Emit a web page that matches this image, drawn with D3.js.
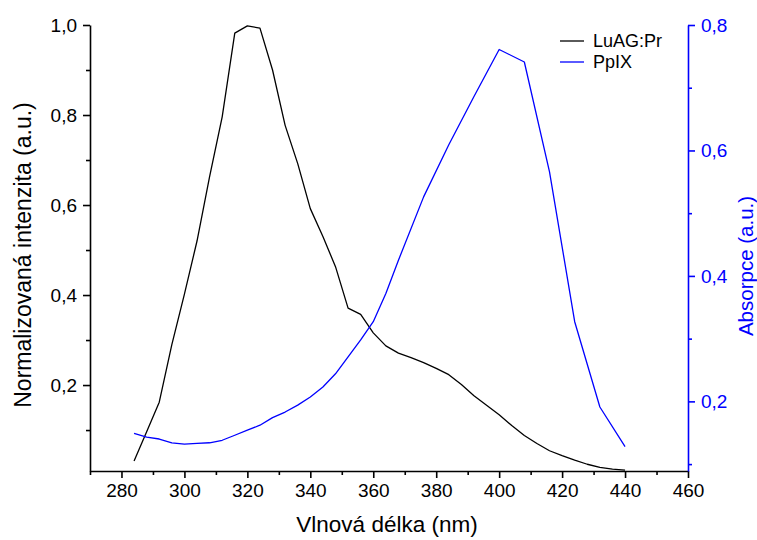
<!DOCTYPE html>
<html lang="cs">
<head>
    <meta charset="utf-8">
    <title>LuAG:Pr / PpIX</title>
    <script src="https://d3js.org/d3.v7.min.js"></script>
    <style>
        body {
            margin: 0;
            background: #fff;
            font-family: "Liberation Sans", Arial, sans-serif;
        }
        .curve {
            fill: none;
            stroke-width: 1.3px;
            stroke-linejoin: round;
        }
        .axis path, .axis line {
            stroke-width: 1.6px;
        }
    </style>
</head>
<body>
    <svg id="chart" width="757" height="540"></svg>

    <script>
        // LuAG:Pr emise (levá osa) - vlnová délka v nm, krok 4 nm
        const luagX = [284, 288, 292, 296, 300, 304, 308, 312, 316, 320, 324, 328, 332, 336, 340,
            344, 348, 352, 356, 360, 364, 368, 372, 376, 380, 384, 388, 392, 396, 400,
            404, 408, 412, 416, 420, 424, 428, 432, 436, 440];
        const luagY = [0.031, 0.096, 0.162, 0.290, 0.402, 0.520, 0.663, 0.796, 0.982, 0.998, 0.993, 0.900, 0.777, 0.692, 0.592,
            0.530, 0.463, 0.371, 0.357, 0.316, 0.287, 0.271, 0.261, 0.250, 0.237, 0.223, 0.201, 0.176, 0.155, 0.134,
            0.110, 0.088, 0.070, 0.054, 0.043, 0.033, 0.024, 0.017, 0.013, 0.011];

        // PpIX absorpce (pravá osa)
        const ppixX = [284, 288, 292, 296, 300, 304, 308, 312, 316, 320, 324, 328, 332, 336, 340,
            344, 348, 352, 356, 360, 364, 368, 376, 384, 392, 400, 408, 416, 424, 432, 440];
        const ppixY = [0.149, 0.143, 0.140, 0.134, 0.132, 0.133, 0.134, 0.138, 0.146, 0.154, 0.162, 0.174, 0.183, 0.194, 0.207,
            0.223, 0.244, 0.271, 0.298, 0.327, 0.372, 0.425, 0.526, 0.609, 0.686, 0.761, 0.741, 0.566, 0.327, 0.191, 0.128];

        const xTicks = [280, 300, 320, 340, 360, 380, 400, 420, 440, 460];
        const leftTicks = [0.2, 0.4, 0.6, 0.8, 1.0];
        const rightTicks = [0.2, 0.4, 0.6, 0.8];
        const seriesNames = ["LuAG:Pr", "PpIX"];
        const seriesColors = ["#000000", "#0000ff"];

        const margin = { top: 25, right: 69, bottom: 69, left: 90 };
        const width = 757, height = 540;
        const svg = d3.select("#chart");

        const x = d3.scaleLinear().domain([270, 460]).range([margin.left, width - margin.right]);
        const yLeft = d3.scaleLinear().domain([0.009, 1.0]).range([height - margin.bottom, margin.top]);
        const yRight = d3.scaleLinear().domain([0.089, 0.8]).range([height - margin.bottom, margin.top]);

        const comma = d => d3.format(".1f")(d).replace(".", ",");

        // helper: major + minor ticks for one axis
        function drawAxis(axisFn, scale, major, minor, transform, color, fontSize) {
            const gMinor = svg.append("g")
                .attr("class", "axis")
                .attr("transform", transform)
                .call(axisFn(scale).tickValues(minor).tickSize(4).tickFormat(""));
            gMinor.select(".domain").remove();
            gMinor.selectAll("line").attr("stroke", color);

            const g = svg.append("g")
                .attr("class", "axis")
                .attr("transform", transform)
                .call(axisFn(scale).tickValues(major).tickSizeInner(7).tickSizeOuter(0).tickPadding(6));
            g.select(".domain").attr("stroke", color);
            g.selectAll("line").attr("stroke", color);
            g.selectAll("text")
                .attr("fill", color)
                .style("font-family", "'Liberation Sans', Arial, sans-serif")
                .style("font-size", fontSize + "px");
            return g;
        }

        drawAxis(d3.axisBottom, x, xTicks, d3.range(270, 461, 10).filter(v => v % 20 !== 0),
            `translate(0,${height - margin.bottom})`, "#000", 19)
            .call(g => g.selectAll("text").text(d => d));

        drawAxis(d3.axisLeft, yLeft, leftTicks, [0.1, 0.3, 0.5, 0.7, 0.9],
            `translate(${margin.left},0)`, "#000", 19)
            .call(g => g.selectAll("text").text(comma));

        drawAxis(d3.axisRight, yRight, rightTicks, [0.1, 0.3, 0.5, 0.7],
            `translate(${width - margin.right},0)`, "#0000ff", 19)
            .call(g => g.selectAll("text").text(comma));

        // axis titles
        svg.append("text")
            .attr("x", 387)
            .attr("y", 532)
            .attr("text-anchor", "middle")
            .style("font-size", "22.5px")
            .text("Vlnová délka (nm)");

        svg.append("text")
            .attr("transform", "translate(31,255) rotate(-90)")
            .attr("text-anchor", "middle")
            .style("font-size", "23px")
            .text("Normalizovaná intenzita (a.u.)");

        svg.append("text")
            .attr("transform", "translate(753,266) rotate(-90)")
            .attr("text-anchor", "middle")
            .attr("fill", "#0000ff")
            .style("font-size", "20.5px")
            .text("Absorpce (a.u.)");

        // curves
        const lineLeft = d3.line().x(d => x(d[0])).y(d => yLeft(d[1]));
        const lineRight = d3.line().x(d => x(d[0])).y(d => yRight(d[1]));

        svg.append("path")
            .datum(d3.zip(luagX, luagY))
            .attr("class", "curve")
            .attr("stroke", seriesColors[0])
            .attr("d", lineLeft);

        svg.append("path")
            .datum(d3.zip(ppixX, ppixY))
            .attr("class", "curve")
            .attr("stroke", seriesColors[1])
            .attr("d", lineRight);

        // legend
        const legend = svg.append("g").attr("transform", "translate(560,41)");
        seriesNames.forEach((name, i) => {
            const row = legend.append("g").attr("transform", `translate(0,${i * 21})`);
            row.append("line")
                .attr("x1", 0).attr("x2", 24)
                .attr("stroke", seriesColors[i])
                .attr("stroke-width", 1.3);
            row.append("text")
                .attr("x", 33)
                .attr("y", 6)
                .style("font-size", "18px")
                .text(name);
        });
    </script>
</body>
</html>
